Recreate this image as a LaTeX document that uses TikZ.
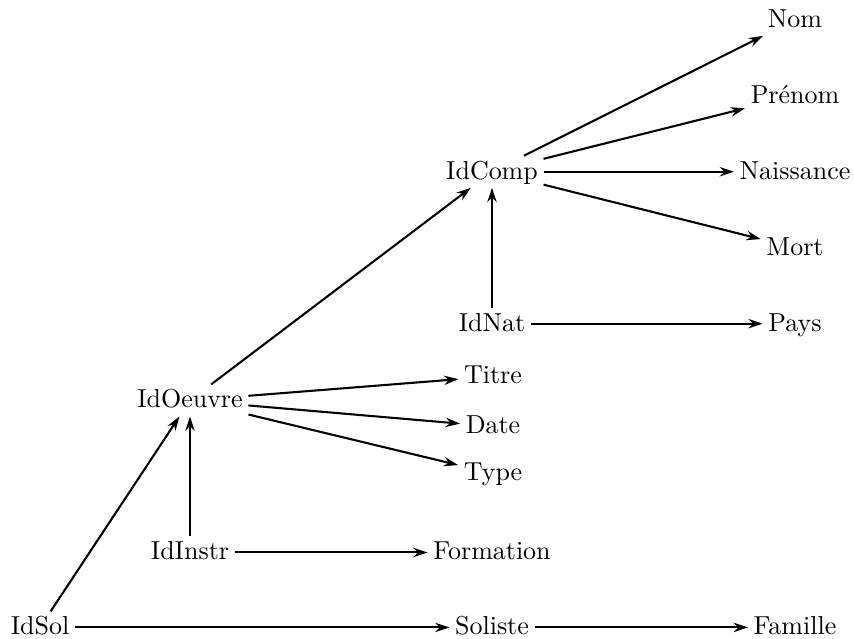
\documentclass[tikz,border=0pt]{standalone}
\usetikzlibrary{arrows.meta}
\begin{document}
\begin{tikzpicture}[x=0.385pt,y=-0.385pt,
  lbl/.style={anchor=base,inner sep=2pt,text height=1.6ex,text depth=0.25ex},
  link/.style={thick,-{Stealth[length=5.5pt,width=3.6pt,inset=1.8pt]}}]
\useasboundingbox (0,0) rectangle (854,639);
\node[lbl] (nom) at (795,27.4) {Nom};
\node[lbl] (prenom) at (795,103.4) {Prénom};
\node[lbl] (naiss) at (795,179.3) {Naissance};
\node[lbl] (mort) at (795,255.2) {Mort};
\node[lbl] (pays) at (795,331.2) {Pays};
\node[lbl] (famille) at (795,635) {Famille};
\node[lbl] (idcomp) at (492,179.3) {IdComp};
\node[lbl] (idnat) at (492,331.2) {IdNat};
\node[lbl] (titre) at (493,384) {Titre};
\node[lbl] (date) at (493,434) {Date};
\node[lbl] (type) at (493,481) {Type};
\node[lbl] (formation) at (492,560) {Formation};
\node[lbl] (soliste) at (492,635) {Soliste};
\node[lbl] (idoeuvre) at (190,408) {IdOeuvre};
\node[lbl] (idinstr) at (190,560) {IdInstr};
\node[lbl] (idsol) at (40,635) {IdSol};
\draw[link] (idcomp) -- (nom);
\draw[link] (idcomp) -- (prenom);
\draw[link] (idcomp) -- (naiss);
\draw[link] (idcomp) -- (mort);
\draw[link] (idnat) -- (idcomp);
\draw[link] (idnat) -- (pays);
\draw[link] (idoeuvre) -- (idcomp);
\draw[link] (idoeuvre) -- (titre);
\draw[link] (idoeuvre) -- (date);
\draw[link] (idoeuvre) -- (type);
\draw[link] (idinstr) -- (idoeuvre);
\draw[link] (idinstr) -- (formation);
\draw[link] (idsol) -- (idoeuvre);
\draw[link] (idsol) -- (soliste);
\draw[link] (soliste) -- (famille);
\end{tikzpicture}
\end{document}
